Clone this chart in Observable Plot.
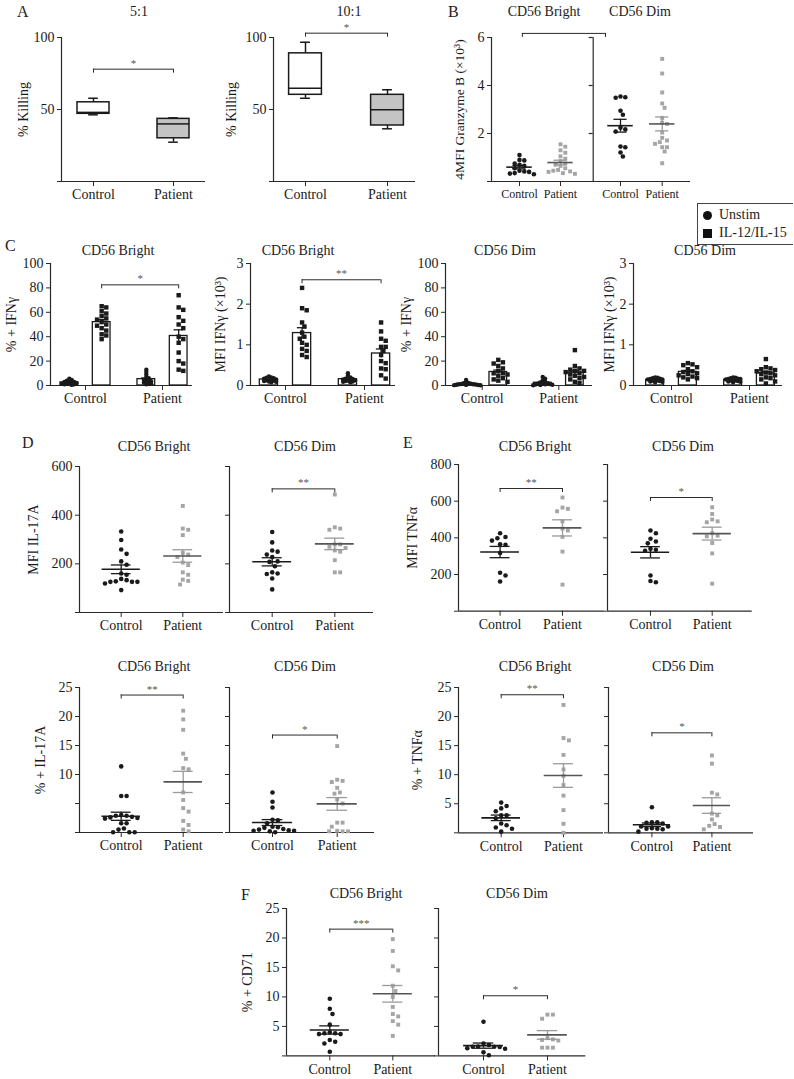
<!DOCTYPE html>
<html>
<head>
<meta charset="utf-8">
<script src="https://cdn.jsdelivr.net/npm/d3@7"></script>
<script src="https://cdn.jsdelivr.net/npm/@observablehq/plot@0.6"></script>
<style>
  html, body { margin: 0; padding: 0; background: #fff; }
  #fig { position: relative; width: 794px; height: 1079px; overflow: hidden; background: #fff;
         font-family: "Liberation Serif", "Times New Roman", serif; color: #222; }
  .t { position: absolute; white-space: nowrap; line-height: 1; font-size: 14px; transform: translate(-50%, -50%); }
  .letter { font-size: 16px; transform: translate(0, -50%); }
  #legend { position: absolute; left: 697px; top: 203px; border: 1px solid #444; border-right: none;
            padding: 2px 6px 2px 5px; font-size: 14px; line-height: 18px; background: #fff; }
  #legend .sym { display: inline-block; width: 9px; height: 9px; background: #111; margin-right: 7px; vertical-align: -1px; }
  #legend .dot { border-radius: 50%; }
</style>
</head>
<body>
<div id="fig"></div>
<script>
// ===================== DATA =====================
const groupNames = ["Control", "Patient"];

// A: % killing, box summaries [min, q1, median, q3, max]
const killing5Control = [46.3, 47, 48, 55, 57.8];
const killing5Patient = [27.3, 30, 40, 43.5, 44.2];
const killing10Control = [57.8, 60.2, 64.8, 89, 96.7];
const killing10Patient = [36.6, 38.9, 49.8, 60.2, 63.7];

// B: granzyme B (x10^3)
const gzmbBrightControl = [1.1, 0.9, 0.88, 0.75, 0.7, 0.65, 0.55, 0.45, 0.42, 0.4, 0.35, 0.33, 0.3];
const gzmbBrightPatient = [1.55, 1.45, 1.3, 1.2, 1.05, 0.95, 0.85, 0.75, 0.7, 0.65, 0.55, 0.48, 0.45, 0.42, 0.4, 0.35, 0.32];
const gzmbDimControl = [3.54, 3.51, 3.49, 2.95, 2.78, 2.24, 2.17, 2.08, 1.46, 1.43, 1.21, 1.04];
const gzmbDimPatient = [5.11, 4.5, 3.71, 3.25, 3.07, 2.65, 2.45, 2.4, 2.04, 1.82, 1.71, 1.64, 1.57, 1.43, 1.43, 1.25, 0.76];

// C: IFNγ, unstimulated vs IL-12/IL-15
const ifngPctBrightUnstimControl = [5.5, 4.5, 4, 3.5, 3, 3, 2.5, 2, 2, 1.5, 1.5, 1, 1, 0.5];
const ifngPctBrightUnstimPatient = [13, 11, 9, 7, 6, 5, 4.5, 4, 3.5, 3, 2.5, 2, 1.5, 1];
const ifngPctBrightStimControl = [65, 64, 61, 59, 57, 55, 54, 52, 50, 49, 47, 45, 42, 41, 38];
const ifngPctBrightStimPatient = [74, 64, 62, 56, 53, 50, 47, 40, 38, 35, 27, 20, 18, 13, 12];
const ifngMfiBrightUnstimControl = [0.22, 0.2, 0.19, 0.18, 0.17, 0.16, 0.15, 0.14, 0.13, 0.12, 0.11, 0.1, 0.09, 0.08];
const ifngMfiBrightUnstimPatient = [0.3, 0.24, 0.2, 0.18, 0.17, 0.16, 0.15, 0.14, 0.13, 0.12, 0.11, 0.1, 0.09, 0.08];
const ifngMfiBrightStimControl = [2.4, 1.9, 1.85, 1.55, 1.45, 1.3, 1.2, 1.15, 1.05, 1.0, 0.9, 0.85, 0.75, 0.7];
const ifngMfiBrightStimPatient = [1.55, 1.33, 1.15, 1.1, 0.95, 0.95, 0.85, 0.75, 0.6, 0.55, 0.42, 0.4, 0.25, 0.17];
const ifngPctDimUnstimControl = [4.5, 2.5, 2, 1.8, 1.5, 1.2, 1, 1, 0.8, 0.6, 0.5, 0.4, 0.3, 0.2];
const ifngPctDimUnstimPatient = [7, 5.5, 4, 3, 2.5, 2, 1.8, 1.5, 1.2, 1, 0.8, 0.6, 0.4, 0.2];
const ifngPctDimStimControl = [21, 19, 18, 16, 14, 12, 10, 10, 9, 8, 6, 5, 4, 3];
const ifngPctDimStimPatient = [29, 16, 14, 13, 12, 12, 11, 10, 9, 8, 7, 6, 5, 3, 2];
const ifngMfiDimUnstimControl = [0.2, 0.19, 0.18, 0.17, 0.16, 0.15, 0.15, 0.14, 0.13, 0.12, 0.11, 0.1, 0.09, 0.08];
const ifngMfiDimUnstimPatient = [0.2, 0.19, 0.18, 0.17, 0.16, 0.16, 0.15, 0.14, 0.13, 0.12, 0.11, 0.1, 0.09, 0.08];
const ifngMfiDimStimControl = [0.55, 0.52, 0.5, 0.45, 0.4, 0.35, 0.33, 0.3, 0.28, 0.25, 0.22, 0.2, 0.18, 0.15];
const ifngMfiDimStimPatient = [0.65, 0.45, 0.42, 0.4, 0.38, 0.35, 0.32, 0.3, 0.28, 0.25, 0.2, 0.18, 0.15, 0.1, 0.05];

// D: IL-17A
const il17MfiBrightControl = [333, 298, 259, 241, 210, 196, 160, 155, 128, 126, 126, 126, 133, 119, 138, 92];
const il17MfiBrightPatient = [438, 345, 340, 318, 245, 238, 228, 205, 195, 165, 155, 135, 130, 115];
const il17MfiDimControl = [331, 288, 255, 250, 238, 228, 210, 208, 190, 165, 160, 158, 140, 95];
const il17MfiDimPatient = [485, 350, 345, 340, 280, 280, 270, 265, 255, 250, 215, 165, 165];
const il17PctBrightControl = [11.4, 6.3, 6.3, 3.0, 2.9, 2.9, 2.7, 2.6, 2.5, 2.4, 1.6, 1.6, 0.7, 0.5, 0.05, 0.05, 0.05];
const il17PctBrightPatient = [21.0, 19.5, 17.7, 13.6, 12.7, 11.1, 10.9, 6.9, 5.6, 4.2, 3.6, 2.0, 1.3, 0.5, 0.2];
const il17PctDimControl = [6.9, 5.3, 4.3, 2.2, 2.1, 1.6, 1.0, 0.9, 0.8, 0.6, 0.5, 0.4, 0.3, 0.3, 0.2, 0.05];
const il17PctDimPatient = [14.9, 9.1, 8.9, 8.7, 7.7, 6.9, 6.7, 5.7, 5.0, 1.7, 1.7, 1.0, 0.3, 0.2, 0.2, 0.2];

// E: TNFα
const tnfMfiBrightControl = [425, 405, 398, 385, 365, 362, 318, 210, 195, 162];
const tnfMfiBrightPatient = [620, 565, 558, 545, 490, 450, 440, 405, 325, 145];
const tnfMfiDimControl = [440, 425, 395, 380, 370, 340, 335, 330, 195, 165, 158];
const tnfMfiDimPatient = [567, 530, 500, 490, 485, 425, 412, 408, 372, 315, 150];
const tnfPctBrightControl = [5.2, 4.6, 4.2, 3.7, 3.0, 3.0, 2.5, 1.6, 1.3, 0.9, 0.7, 0.2];
const tnfPctBrightPatient = [22.0, 16.3, 15.9, 13.4, 10.9, 9.8, 8.2, 6.4, 3.9, 1.55, 0];
const tnfPctDimControl = [4.4, 1.8, 1.8, 1.7, 1.6, 1.1, 1.1, 0.8, 0.7, 0.7, 0.6, 0.2];
const tnfPctDimPatient = [13.3, 11.9, 6.9, 6.6, 3.3, 3.0, 2.3, 1.5, 1.2, 1.0, 0.6];

// F: CD71
const cd71BrightControl = [9.7, 8.0, 7.1, 5.3, 4.0, 3.85, 3.85, 3.7, 3.7, 2.7, 2.4, 2.1, 0.7];
const cd71BrightPatient = [19.8, 17.8, 15.2, 14.5, 11.9, 11.0, 10.0, 8.3, 7.1, 6.7, 5.9, 5.3, 3.4];
const cd71DimControl = [5.8, 2.1, 1.85, 1.6, 1.55, 1.55, 1.5, 1.3, 1.2, 0.6, 0.1];
const cd71DimPatient = [7.0, 7.0, 6.3, 3.0, 2.8, 2.7, 2.6, 1.4, 1.4, 1.4];

// significance brackets (label, height in data units)
const sigKilling5 = {label: "*", y: 78};
const sigKilling10 = {label: "*", y: 103};
const sigGzmb = {label: "", y: 6.17};
const sigIfngPctBright = {label: "*", y: 82.5};
const sigIfngMfiBright = {label: "**", y: 2.6};
const sigIl17MfiDim = {label: "**", y: 508};
const sigTnfMfiBright = {label: "**", y: 669};
const sigTnfMfiDim = {label: "*", y: 620};
const sigIl17PctBright = {label: "**", y: 23.7};
const sigIl17PctDim = {label: "*", y: 16.8};
const sigTnfPctBright = {label: "**", y: 23.75};
const sigTnfPctDim = {label: "*", y: 17.2};
const sigCd71Bright = {label: "***", y: 21.5};
const sigCd71Dim = {label: "*", y: 10.2};

// ===================== LAYOUT / DRAWING =====================
const FONT = '"Liberation Serif", "Times New Roman", serif';
const INK = "#1a1a1a", AX = "#2a2a2a", GRAY = "#a5a5a5", BOXGRAY = "#c4c4c4";
const fig = document.getElementById("fig");

function txt(str, x, y, cls = "t") {
  const d = document.createElement("div");
  d.className = cls === "t" ? "t" : "t " + cls;
  d.textContent = str;
  d.style.left = x + "px";
  d.style.top = y + "px";
  fig.appendChild(d);
}

function xinfo(cfg) {
  const ppx = cfg.patX - cfg.ctrlX;
  return {ppx, domain: [(cfg.x0 - cfg.ctrlX) / ppx, (cfg.x1 - cfg.ctrlX) / ppx]};
}
function ppyOf(cfg) { return (cfg.yBase - cfg.yTop) / cfg.yMax; }

function swarm(values, pxPerY, diam) {
  const order = d3.range(values.length).sort((a, b) => values[b] - values[a]);
  const placed = [];
  const off = new Array(values.length).fill(0);
  const step = diam / 2;
  for (const i of order) {
    const py = values[i] * pxPerY;
    for (let k = 0; k < 400; k++) {
      const o = k === 0 ? 0 : (k % 2 ? 1 : -1) * Math.ceil(k / 2) * step;
      if (placed.every(p => (p[0] - o) ** 2 + (p[1] - py) ** 2 >= diam * diam * 0.97)) {
        off[i] = o; placed.push([o, py]); break;
      }
    }
  }
  return off;
}

function stats(values) {
  const m = d3.mean(values), se = d3.deviation(values) / Math.sqrt(values.length);
  return {m, lo: m - se, hi: m + se};
}

function draw(cfg, marks) {
  const ML = 62, MR = 14, MT = 36, MB = 34;
  const {domain} = xinfo(cfg);
  const xTicks = cfg.xTicks || [0, 1];
  const xNames = cfg.xNames || groupNames;
  const all = [
    Plot.ruleY([0], {x1: domain[0], x2: domain[1], stroke: AX, strokeWidth: 1.2}),
    Plot.ruleX([domain[0]], {y1: 0, y2: cfg.yMax, stroke: AX, strokeWidth: 1.2}),
    Plot.axisY({ticks: cfg.yTicks, tickSize: 4, tickPadding: 3, label: null, fontSize: 14, stroke: AX,
                tickFormat: d => cfg.yLabels.includes(d) ? String(d) : ""}),
    Plot.axisX({ticks: xTicks, tickSize: 5, tickPadding: 3, label: null, fontSize: cfg.xFont || 14, stroke: AX,
                tickFormat: d => xNames[xTicks.indexOf(d)]}),
    ...marks
  ];
  if (cfg.ylabel) all.push(Plot.text([cfg.ylabel], {text: d => d, frameAnchor: "left", rotate: -90,
      textAnchor: "middle", lineAnchor: "middle", dx: cfg.ylabelX - cfg.x0, fontSize: cfg.ylabelFont || 14, fill: INK}));
  const plot = Plot.plot({
    width: cfg.x1 - cfg.x0 + ML + MR,
    height: cfg.yBase - cfg.yTop + MT + MB,
    marginLeft: ML, marginRight: MR, marginTop: MT, marginBottom: MB,
    x: {type: "linear", domain, axis: null},
    y: {type: "linear", domain: [0, cfg.yMax], axis: null},
    style: {background: "transparent", overflow: "visible", fontFamily: FONT, color: INK},
    marks: all
  });
  plot.style.position = "absolute";
  plot.style.left = (cfg.x0 - ML) + "px";
  plot.style.top = (cfg.yTop - MT) + "px";
  fig.appendChild(plot);
}

function bracket(cfg, sig, from = 0, to = 1) {
  const h = 4 / ppyOf(cfg);
  const b = {...sig, from, to};
  return [
    Plot.ruleY([b], {y: "y", x1: "from", x2: "to", stroke: AX, strokeWidth: 1}),
    Plot.ruleX([b.from, b.to], {x: d => d, y1: b.y, y2: b.y - h, stroke: AX, strokeWidth: 1}),
    Plot.text([b], {x: d => (d.from + d.to) / 2, y: "y", text: "label", dy: -6, fontSize: 11, fill: "#555"})
  ];
}

function scatter(cfg, series) {
  const {ppx} = xinfo(cfg), ppy = ppyOf(cfg);
  const pts = [], lines = [];
  for (const s of series) {
    const off = swarm(s.values, ppy, cfg.diam || 5.4);
    const p = s.values.map((v, i) => ({x: s.pos + off[i] / ppx, y: v}));
    pts.push(s.kind === "dot"
      ? Plot.dot(p, {x: "x", y: "y", r: 2.3, fill: INK, stroke: "none"})
      : Plot.dot(p, {x: "x", y: "y", r: 2.2, symbol: "square", fill: GRAY, stroke: "none"}));
    const st = [{pos: s.pos, ...stats(s.values)}];
    const mc = s.kind === "dot" ? INK : "#555", sc = s.kind === "dot" ? INK : "#9a9a9a";
    lines.push(
      Plot.ruleX(st, {x: "pos", y1: "lo", y2: "hi", stroke: sc, strokeWidth: 1.3}),
      Plot.ruleY(st, {y: "lo", x1: d => d.pos - 0.16, x2: d => d.pos + 0.16, stroke: sc, strokeWidth: 1.3}),
      Plot.ruleY(st, {y: "hi", x1: d => d.pos - 0.16, x2: d => d.pos + 0.16, stroke: sc, strokeWidth: 1.3}),
      Plot.ruleY(st, {y: "m", x1: d => d.pos - 0.31, x2: d => d.pos + 0.31, stroke: mc, strokeWidth: 1.6})
    );
  }
  return [...pts, ...lines];
}

function bars(cfg, series) {
  const {ppx} = xinfo(cfg), ppy = ppyOf(cfg);
  const shift = 0.21, hw = 0.115;
  const rects = [], pts = [], errs = [];
  for (const s of series) {
    const c = s.pos + (s.kind === "dot" ? -shift : shift);
    const st = [{c, ...stats(s.values)}];
    rects.push(Plot.rect(st, {x1: d => d.c - hw, x2: d => d.c + hw, y1: 0, y2: "m", fill: "white", stroke: INK, strokeWidth: 1.3}));
    const off = swarm(s.values, ppy, s.kind === "dot" ? 2.4 : 4.6);
    const p = s.values.map((v, i) => ({x: c + off[i] / ppx, y: v}));
    pts.push(s.kind === "dot"
      ? Plot.dot(p, {x: "x", y: "y", r: 2.2, fill: INK, stroke: "none"})
      : Plot.dot(p, {x: "x", y: "y", r: 2.5, symbol: "square", fill: INK, stroke: "none"}));
    errs.push(
      Plot.ruleX(st, {x: "c", y1: "lo", y2: "hi", stroke: INK, strokeWidth: 1.3}),
      Plot.ruleY(st, {y: "hi", x1: d => d.c - 0.06, x2: d => d.c + 0.06, stroke: INK, strokeWidth: 1.3})
    );
  }
  return [...rects, ...pts, ...errs];
}

function boxes(items) {
  return items.flatMap(b => {
    const d = [{pos: b.pos, mn: b.s[0], q1: b.s[1], md: b.s[2], q3: b.s[3], mx: b.s[4]}];
    const o = {stroke: INK, strokeWidth: 1.5};
    return [
      Plot.ruleX(d, {x: "pos", y1: "q3", y2: "mx", ...o}),
      Plot.ruleX(d, {x: "pos", y1: "mn", y2: "q1", ...o}),
      Plot.ruleY(d, {y: "mx", x1: v => v.pos - 0.06, x2: v => v.pos + 0.06, ...o}),
      Plot.ruleY(d, {y: "mn", x1: v => v.pos - 0.06, x2: v => v.pos + 0.06, ...o}),
      Plot.rect(d, {x1: v => v.pos - 0.2, x2: v => v.pos + 0.2, y1: "q1", y2: "q3", fill: b.fill, ...o}),
      Plot.ruleY(d, {y: "md", x1: v => v.pos - 0.2, x2: v => v.pos + 0.2, ...o})
    ];
  });
}

// ---------- panel geometry (pixels) ----------
const tk100 = [0, 50, 100];
const a1 = {x0: 61, x1: 205, ctrlX: 93, patX: 173, yTop: 37, yBase: 181, yMax: 100, yTicks: tk100, yLabels: [50, 100], ylabel: "% Killing", ylabelX: 23};
const a2 = {x0: 273, x1: 415, ctrlX: 305, patX: 387, yTop: 37, yBase: 181, yMax: 100, yTicks: tk100, yLabels: [50, 100], ylabel: "% Killing", ylabelX: 231};
const bPx = [519, 560, 620, 661.7];
const bPos = bPx.map(p => (p - bPx[0]) / (bPx[1] - bPx[0]));
const bDivider = (592.7 - bPx[0]) / (bPx[1] - bPx[0]);
const bCfg = {x0: 491, x1: 690, ctrlX: bPx[0], patX: bPx[1], yTop: 37, yBase: 181, yMax: 6, yTicks: [0, 2, 4, 6], yLabels: [2, 4, 6],
  ylabel: "4MFI Granzyme B (×10³)", ylabelX: 459, ylabelFont: 13.5, xFont: 12, xTicks: bPos, xNames: ["Control", "Patient", "Control", "Patient"], diam: 4.8};

const pctT = [0, 20, 40, 60, 80, 100], mfiT = [0, 1, 2, 3];
const cRow = {yTop: 263, yBase: 385};
const c1 = {...cRow, x0: 50, x1: 192, ctrlX: 85, patX: 162, yMax: 100, yTicks: pctT, yLabels: pctT, ylabel: "% + IFNγ", ylabelX: 11};
const c2 = {...cRow, x0: 250, x1: 395, ctrlX: 285, patX: 364, yMax: 3, yTicks: mfiT, yLabels: mfiT, ylabel: "MFI IFNγ (×10³)", ylabelX: 220};
const c3 = {...cRow, x0: 445, x1: 592, ctrlX: 481.7, patX: 558.3, yMax: 100, yTicks: pctT, yLabels: pctT, ylabel: "% + IFNγ", ylabelX: 406};
const c4 = {...cRow, x0: 633, x1: 782, ctrlX: 671, patX: 749, yMax: 3, yTicks: mfiT, yLabels: mfiT, ylabel: "MFI IFNγ (×10³)", ylabelX: 609};

const t600 = [0, 200, 400, 600], t800 = [0, 200, 400, 600, 800], t25 = [0, 5, 10, 15, 20, 25];
const d1 = {x0: 79, x1: 223, ctrlX: 120.7, patX: 182.3, yTop: 465.7, yBase: 611.7, yMax: 600, yTicks: t600, yLabels: [200, 400, 600], ylabel: "MFI IL-17A", ylabelX: 33};
const d2 = {x0: 229, x1: 373, ctrlX: 271.7, patX: 334.3, yTop: 465.7, yBase: 611.7, yMax: 600, yTicks: t600, yLabels: []};
const e1 = {x0: 457.7, x1: 603, ctrlX: 499.3, patX: 561.7, yTop: 464, yBase: 610.7, yMax: 800, yTicks: t800, yLabels: [200, 400, 600, 800], ylabel: "MFI TNFα", ylabelX: 412};
const e2 = {x0: 607, x1: 751.7, ctrlX: 650, patX: 711.7, yTop: 464, yBase: 610.7, yMax: 800, yTicks: t800, yLabels: []};
const d3p = {x0: 79, x1: 223, ctrlX: 120.7, patX: 182.7, yTop: 686.7, yBase: 831.7, yMax: 25, yTicks: t25, yLabels: [10, 15, 20, 25], ylabel: "% + IL-17A", ylabelX: 40};
const d4p = {x0: 229.3, x1: 374.3, ctrlX: 272.3, patX: 337, yTop: 686.7, yBase: 831.7, yMax: 25, yTicks: t25, yLabels: []};
const e3 = {x0: 458.3, x1: 603.3, ctrlX: 501, patX: 563.3, yTop: 687, yBase: 832.3, yMax: 25, yTicks: t25, yLabels: [5, 10, 15, 20, 25], ylabel: "% + TNFα", ylabelX: 417};
const e4 = {x0: 608.3, x1: 753.3, ctrlX: 651.7, patX: 711.7, yTop: 687, yBase: 832.3, yMax: 25, yTicks: t25, yLabels: []};
const f1 = {x0: 286, x1: 435, ctrlX: 329.3, patX: 392.3, yTop: 908.3, yBase: 1055.7, yMax: 25, yTicks: t25, yLabels: [5, 10, 15, 20, 25], ylabel: "% + CD71", ylabelX: 247};
const f2 = {x0: 437.7, x1: 585, ctrlX: 482.7, patX: 546.7, yTop: 908.3, yBase: 1055.7, yMax: 25, yTicks: t25, yLabels: []};

// ---------- A ----------
draw(a1, [...boxes([{pos: 0, s: killing5Control, fill: "white"}, {pos: 1, s: killing5Patient, fill: BOXGRAY}]), ...bracket(a1, sigKilling5)]);
draw(a2, [...boxes([{pos: 0, s: killing10Control, fill: "white"}, {pos: 1, s: killing10Patient, fill: BOXGRAY}]), ...bracket(a2, sigKilling10)]);

// ---------- B ----------
draw(bCfg, [
  Plot.ruleX([bDivider], {y1: 0, y2: 6, stroke: AX, strokeWidth: 1.2}),
  Plot.ruleY([2, 4, 6], {y: d => d, x1: bDivider - 4 / (bPx[1] - bPx[0]), x2: bDivider, stroke: AX, strokeWidth: 1.2}),
  ...scatter(bCfg, [
    {values: gzmbBrightControl, pos: bPos[0], kind: "dot"},
    {values: gzmbBrightPatient, pos: bPos[1], kind: "square"},
    {values: gzmbDimControl, pos: bPos[2], kind: "dot"},
    {values: gzmbDimPatient, pos: bPos[3], kind: "square"}
  ]),
  ...bracket(bCfg, sigGzmb, 0.07, (605 - bPx[0]) / (bPx[1] - bPx[0]))
]);

// ---------- C ----------
function cPanel(cfg, u0, u1, s0, s1, sig) {
  draw(cfg, [...bars(cfg, [
    {values: u0, pos: 0, kind: "dot"}, {values: s0, pos: 0, kind: "square"},
    {values: u1, pos: 1, kind: "dot"}, {values: s1, pos: 1, kind: "square"}
  ]), ...(sig ? bracket(cfg, sig, 0.21, 1.21) : [])]);
}
cPanel(c1, ifngPctBrightUnstimControl, ifngPctBrightUnstimPatient, ifngPctBrightStimControl, ifngPctBrightStimPatient, sigIfngPctBright);
cPanel(c2, ifngMfiBrightUnstimControl, ifngMfiBrightUnstimPatient, ifngMfiBrightStimControl, ifngMfiBrightStimPatient, sigIfngMfiBright);
cPanel(c3, ifngPctDimUnstimControl, ifngPctDimUnstimPatient, ifngPctDimStimControl, ifngPctDimStimPatient, null);
cPanel(c4, ifngMfiDimUnstimControl, ifngMfiDimUnstimPatient, ifngMfiDimStimControl, ifngMfiDimStimPatient, null);

// ---------- D, E, F ----------
function sPanel(cfg, ctrl, pat, sig) {
  draw(cfg, [...scatter(cfg, [{values: ctrl, pos: 0, kind: "dot"}, {values: pat, pos: 1, kind: "square"}]),
             ...(sig ? bracket(cfg, sig) : [])]);
}
sPanel(d1, il17MfiBrightControl, il17MfiBrightPatient, null);
sPanel(d2, il17MfiDimControl, il17MfiDimPatient, sigIl17MfiDim);
sPanel(e1, tnfMfiBrightControl, tnfMfiBrightPatient, sigTnfMfiBright);
sPanel(e2, tnfMfiDimControl, tnfMfiDimPatient, sigTnfMfiDim);
sPanel(d3p, il17PctBrightControl, il17PctBrightPatient, sigIl17PctBright);
sPanel(d4p, il17PctDimControl, il17PctDimPatient, sigIl17PctDim);
sPanel(e3, tnfPctBrightControl, tnfPctBrightPatient, sigTnfPctBright);
sPanel(e4, tnfPctDimControl, tnfPctDimPatient, sigTnfPctDim);
sPanel(f1, cd71BrightControl, cd71BrightPatient, sigCd71Bright);
sPanel(f2, cd71DimControl, cd71DimPatient, sigCd71Dim);

// ---------- text: panel letters, titles ----------
txt("A", 17, 12, "letter"); txt("5:1", 139, 12); txt("10:1", 349, 12);
txt("B", 448, 12, "letter"); txt("CD56 Bright", 544, 12); txt("CD56 Dim", 640, 12);
txt("C", 5, 246, "letter");
txt("CD56 Bright", 118, 251); txt("CD56 Bright", 298, 251); txt("CD56 Dim", 505, 251); txt("CD56 Dim", 705, 251);
txt("D", 22, 443, "letter"); txt("CD56 Bright", 154, 447); txt("CD56 Dim", 305, 447);
txt("E", 403, 443, "letter"); txt("CD56 Bright", 535, 447); txt("CD56 Dim", 683, 447);
txt("CD56 Bright", 154, 667); txt("CD56 Dim", 305, 667);
txt("CD56 Bright", 535, 667); txt("CD56 Dim", 683, 667);
txt("F", 241, 895, "letter"); txt("CD56 Bright", 366, 894); txt("CD56 Dim", 517, 894);

// ---------- legend ----------
const lg = document.createElement("div");
lg.id = "legend";
lg.innerHTML = '<div><span class="sym dot"></span>Unstim</div><div><span class="sym"></span>IL-12/IL-15</div>';
fig.appendChild(lg);
</script>
</body>
</html>
